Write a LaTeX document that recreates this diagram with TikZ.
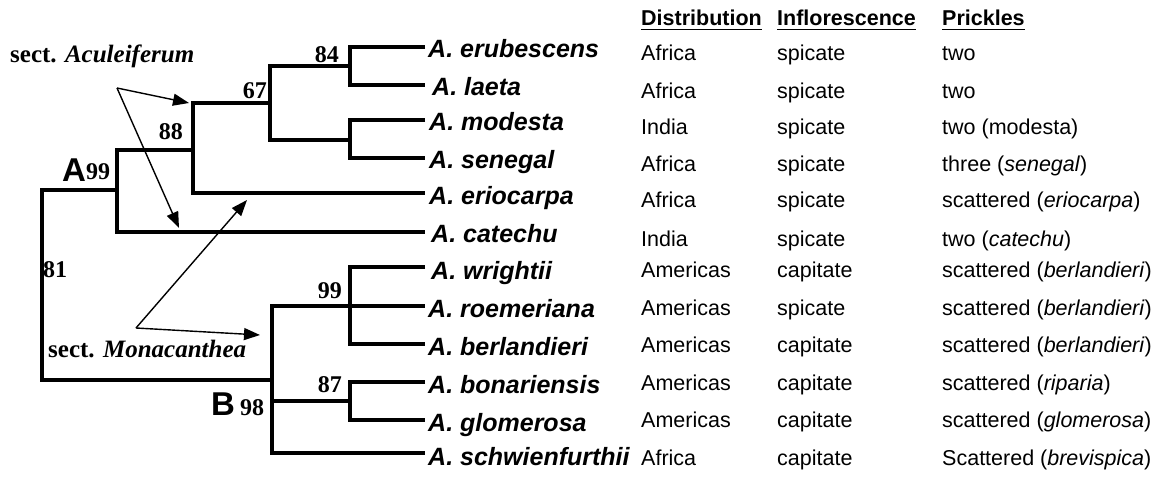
\documentclass[tikz,border=0pt]{standalone}
\usepackage{fontspec}
\setmainfont{Liberation Serif}
\newfontfamily\hel{Liberation Sans}
\usetikzlibrary{arrows.meta}
\begin{document}
\begin{tikzpicture}[x=1pt,y=-1pt,
  tree/.style={line width=4.5pt,line join=miter},
  arr/.style={line width=1.4pt,-{Triangle[length=16pt,width=12pt]}},
  taxon/.style={anchor=base west,inner sep=0pt,font=\hel\fontsize{25}{30}\selectfont\bfseries\itshape},
  cell/.style={anchor=base west,inner sep=0pt,font=\hel\fontsize{21.5}{26}\selectfont},
  head/.style={anchor=base west,inner sep=0pt,font=\hel\fontsize{21.5}{26}\selectfont\bfseries},
  supp/.style={anchor=base east,inner sep=0pt,font=\fontsize{24}{28}\selectfont\bfseries},
  clade/.style={anchor=base west,inner sep=0pt,font=\hel\fontsize{33}{38}\selectfont\bfseries},
  sect/.style={anchor=base west,inner sep=0pt,font=\fontsize{25}{30}\selectfont\bfseries},
  uline/.style={line width=1.5pt}]
\useasboundingbox (0,0) rectangle (1158,478);
% leaf tips
\coordinate (t1) at (425,47);
\coordinate (t2) at (425,85);
\coordinate (t3) at (425,120);
\coordinate (t4) at (425,158);
\coordinate (t5) at (425,193);
\coordinate (t6) at (425,232);
\coordinate (t7) at (425,267);
\coordinate (t8) at (425,306);
\coordinate (t9) at (425,344);
\coordinate (t10) at (425,382);
\coordinate (t11) at (425,420);
\coordinate (t12) at (425,453);
% internal nodes
\coordinate (n84) at (350,66);
\coordinate (nMS) at (350,140);
\coordinate (n67) at (270,103);
\coordinate (n88) at (193,150);
\coordinate (nA) at (117,190);
\coordinate (n99) at (350,306);
\coordinate (n87) at (350,401);
\coordinate (nB) at (272,380);
\coordinate (root) at (42,285);
% tree
\draw[tree] (t1) -| (n84) |- (t2);
\draw[tree] (t3) -| (nMS) |- (t4);
\draw[tree] (n84) -| (n67) |- (nMS);
\draw[tree] (n67) -| (n88) |- (t5);
\draw[tree] (n88) -| (nA) |- (t6);
\draw[tree] (nA) -| (root) |- (nB);
\draw[tree] (t7) -| (n99) |- (t9);
\draw[tree] (n99) -- (t8);
\draw[tree] (t10) -| (n87) |- (t11);
\draw[tree] (n99) -| (nB) |- (t12);
\draw[tree] (nB |- n87) -- (n87);
% support values
\node[supp] (s84) at (339,63) {84};
\node[supp] (s67) at (267,99) {67};
\node[supp] (s88) at (183,140) {88};
\node[clade] (cA) at (62,182) {A};
\node[supp,anchor=base west] (sA) at (86,180) {99};
\node[supp,anchor=base west] (s81) at (43,277) {81};
\node[supp] (s99) at (342,298) {99};
\node[supp] (s87) at (342,392) {87};
\node[clade] (cB) at (211,415) {B};
\node[supp,anchor=base west] (sB) at (240,415) {98};
% taxa
\node[taxon] (x1) at (428,58) {A. erubescens};
\node[taxon] (x2) at (432,96) {A. laeta};
\node[taxon] (x3) at (429,131) {A. modesta};
\node[taxon] (x4) at (429,169) {A. senegal};
\node[taxon] (x5) at (429,205) {A. eriocarpa};
\node[taxon] (x6) at (431,243) {A. catechu};
\node[taxon] (x7) at (431,279) {A. wrightii};
\node[taxon] (x8) at (428,317) {A. roemeriana};
\node[taxon] (x9) at (428,355) {A. berlandieri};
\node[taxon] (x10) at (428,393) {A. bonariensis};
\node[taxon] (x11) at (428,431) {A. glomerosa};
\node[taxon] (x12) at (428,465) {A. schwienfurthii};
% headers
\node[head] (h1) at (641,26) {Distribution};
\node[head] (h2) at (777,26) {Inflorescence};
\node[head] (h3) at (942,26) {Prickles};
\draw[uline] ([yshift=-3.5pt]h1.base west) -- ([yshift=-3.5pt]h1.base east);
\draw[uline] ([yshift=-3.5pt]h2.base west) -- ([yshift=-3.5pt]h2.base east);
\draw[uline] ([yshift=-3.5pt]h3.base west) -- ([yshift=-3.5pt]h3.base east);
% table rows
\node[cell] (d1) at (641,61) {Africa};
\node[cell] (i1) at (777,61) {spicate};
\node[cell] (p1) at (942,61) {two};
\node[cell] (d2) at (641,99) {Africa};
\node[cell] (i2) at (777,99) {spicate};
\node[cell] (p2) at (942,99) {two};
\node[cell] (d3) at (641,135) {India};
\node[cell] (i3) at (777,135) {spicate};
\node[cell] (p3) at (942,135) {two (modesta)};
\node[cell] (d4) at (641,172) {Africa};
\node[cell] (i4) at (777,172) {spicate};
\node[cell] (p4) at (942,172) {three (\textit{senegal})};
\node[cell] (d5) at (641,208) {Africa};
\node[cell] (i5) at (777,208) {spicate};
\node[cell] (p5) at (942,208) {scattered (\textit{eriocarpa})};
\node[cell] (d6) at (641,247) {India};
\node[cell] (i6) at (777,247) {spicate};
\node[cell] (p6) at (942,247) {two (\textit{catechu})};
\node[cell] (d7) at (641,277) {Americas};
\node[cell] (i7) at (777,277) {capitate};
\node[cell] (p7) at (942,277) {scattered (\textit{berlandieri})};
\node[cell] (d8) at (641,315) {Americas};
\node[cell] (i8) at (777,315) {spicate};
\node[cell] (p8) at (942,315) {scattered (\textit{berlandieri})};
\node[cell] (d9) at (641,352) {Americas};
\node[cell] (i9) at (777,352) {capitate};
\node[cell] (p9) at (942,352) {scattered (\textit{berlandieri})};
\node[cell] (d10) at (641,390) {Americas};
\node[cell] (i10) at (777,390) {capitate};
\node[cell] (p10) at (942,390) {scattered (\textit{riparia})};
\node[cell] (d11) at (641,427) {Americas};
\node[cell] (i11) at (777,427) {capitate};
\node[cell] (p11) at (942,427) {scattered (\textit{glomerosa})};
\node[cell] (d12) at (641,465) {Africa};
\node[cell] (i12) at (777,465) {capitate};
\node[cell] (p12) at (942,465) {Scattered (\textit{brevispica})};
% section labels and arrows
\node[sect] (secA) at (10,63) {sect. \textit{Aculeiferum}};
\node[sect] (secM) at (48,357) {sect. \textit{Monacanthea}};
\coordinate (acu) at (117,88);
\coordinate (a1) at (189,103);
\coordinate (a2) at (179,228);
\coordinate (mon) at (136,328);
\coordinate (m1) at (247,200);
\coordinate (m2) at (260,335);
\draw[arr] (acu) -- (a1);
\draw[arr] (acu) -- (a2);
\draw[arr] (mon) -- (m1);
\draw[arr] (mon) -- (m2);
\end{tikzpicture}
\end{document}
